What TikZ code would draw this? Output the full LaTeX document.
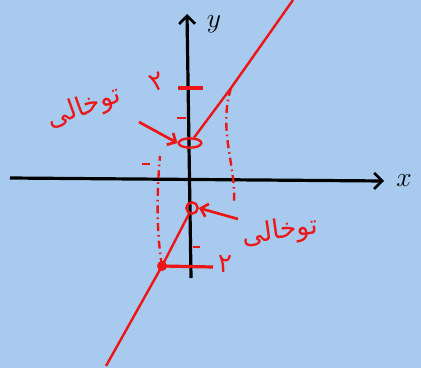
\documentclass[tikz,border=0pt]{standalone}
\usepackage{fontspec}
\newfontfamily\arabicfont[Script=Arabic]{DejaVu Sans}
\TeXXeTstate=1
\usetikzlibrary{arrows.meta,shapes.geometric}
\definecolor{skyback}{RGB}{168,202,238}
\definecolor{penred}{RGB}{236,22,22}
\tikzset{
axis line/.style={line width=2.4pt, black, -{Straight Barb[length=6pt,width=12pt,line width=2pt]}},
graph line/.style={penred, line width=1.8pt},
guide line/.style={penred, line width=1.8pt, dash pattern=on 6pt off 3pt on 1.2pt off 3pt},
hollow mark/.style={draw=penred, line width=1.8pt, inner sep=0pt},
note arrow/.style={penred, line width=2pt, -{Straight Barb[length=5pt,width=10pt]}},
note text/.style={text=penred, inner sep=0.75pt, font=\arabicfont\fontsize{20}{24}\selectfont}}
\tikzset{every picture/.style={line width=0.75pt}}

\begin{document}
\begin{tikzpicture}[x=0.75pt,y=0.75pt,yscale=-1,xscale=1]
%Background
\fill [skyback] (0,0) rectangle (421,368) ;
\useasboundingbox (0,0) rectangle (421,368) ;

%Axes
\coordinate (xstart) at (10,178) ;
\coordinate (xend) at (384,181) ;
\coordinate (ystart) at (191,278) ;
\coordinate (yend) at (187,14) ;
\draw [axis line] (xstart) -- (xend) ;
\draw [axis line] (ystart) -- (yend) ;
% Text Node
\node (xlabel) at (404,181) [font=\huge] {$x$};
% Text Node
\node (ylabel) at (214,24) [font=\huge] {$y$};

%Points on the graph
\node (openup) at (190,143) [ellipse, hollow mark, minimum width=17pt, minimum height=7pt] {};
\node (opendown) at (192,208) [circle, hollow mark, minimum size=8.5pt] {};
\node (closedpt) at (162,266) [circle, fill=penred, inner sep=0pt, minimum size=7.5pt] {};
\coordinate (uppt) at (231,88) ;
\coordinate (topend) at (293,0) ;
\coordinate (botend) at (106,366) ;

%Graph pieces
\draw [graph line] (openup) -- (uppt) -- (topend) ;
\draw [graph line] (opendown) -- (closedpt.center) -- (botend) ;

%Ticks
\draw [graph line, line width=2.4pt] (178,88) -- (203,88) ;
\draw [graph line] (177,118) -- (186,118) ;
\draw [graph line, line width=2.4pt] (closedpt.center) -- (213,267) ;
\draw [graph line] (193,247) -- (200,247) ;
% Text Node
\node (twoup) at (157,82) [note text, rotate=25] {\beginR ۲\endR};
% Text Node
\node (twodown) at (225,264) [note text] {\beginR ۲\endR};

%Guides
\draw [guide line] (uppt) .. controls (218,130) and (236,165) .. (234,202) ;
\draw [guide line] (closedpt.center) .. controls (156,230) and (157,190) .. (160,156) ;
\draw [graph line] (142,164) -- (150,164) ;

%Notes
\coordinate (uptail) at (139,122) ;
\coordinate (downtail) at (238,219) ;
\draw [note arrow] (uptail) -- (openup.west) ;
\draw [note arrow] (downtail) -- (opendown.east) ;
% Text Node
\node (noteup) at (84,108) [note text, rotate=20] {\beginR توخالی\endR};
% Text Node
\node (notedown) at (280,232) [note text, rotate=8] {\beginR توخالی\endR};

\end{tikzpicture}
\end{document}
